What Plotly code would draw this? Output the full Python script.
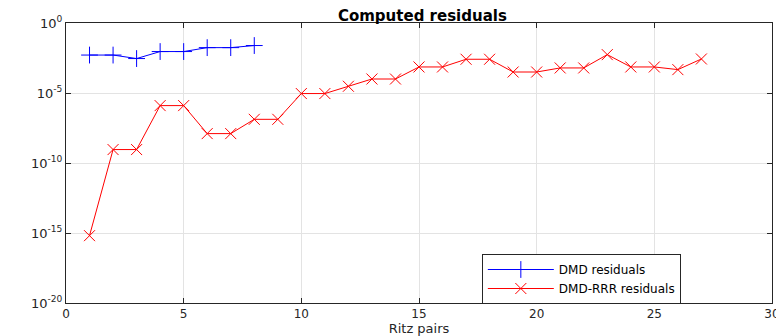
import plotly.graph_objects as go

ritz_dmd = [1, 2, 3, 4, 5, 6, 7, 8]
log_res_dmd = [-2.29, -2.29, -2.54, -2.04, -2.04, -1.76, -1.76, -1.61]

ritz_rrr = list(range(1, 28))
log_res_rrr = [-15.19, -9.04, -9.04, -5.9, -5.9, -7.9, -7.9, -6.88, -6.88,
               -5.04, -5.04, -4.52, -4.0, -4.0, -3.14, -3.14, -2.59, -2.59,
               -3.5, -3.5, -3.21, -3.21, -2.26, -3.14, -3.14, -3.33, -2.57]

res_dmd = [10 ** v for v in log_res_dmd]
res_rrr = [10 ** v for v in log_res_rrr]

y_exps = [0, -5, -10, -15, -20]
y_tickvals = [10.0 ** e for e in y_exps]
y_ticktext = [f"10<sup>{e}</sup>" for e in y_exps]

FONT = "DejaVu Sans, Liberation Sans, Arial, sans-serif"

fig = go.Figure()
fig.add_trace(go.Scatter(
    x=ritz_dmd, y=res_dmd, mode="lines+markers", name="DMD residuals",
    line=dict(color="rgb(0,0,255)", width=1),
    marker=dict(symbol="cross-thin-open", size=12, line=dict(color="rgb(0,0,255)", width=1)),
))
fig.add_trace(go.Scatter(
    x=ritz_rrr, y=res_rrr, mode="lines+markers", name="DMD-RRR residuals",
    line=dict(color="rgb(255,0,0)", width=1),
    marker=dict(symbol="x-thin-open", size=11, line=dict(color="rgb(255,0,0)", width=1)),
))

fig.update_layout(
    width=776, height=328,
    margin=dict(l=58, r=12, t=15, b=33, autoexpand=False),
    paper_bgcolor="white", plot_bgcolor="white",
    font=dict(family=FONT, size=13, color="#262626"),
    title=dict(text="<b>Computed residuals</b>", x=0.534, xanchor="center",
               y=0.975, yanchor="middle", automargin=False,
               font=dict(size=15, color="black")),
    legend=dict(x=0.589, y=0.175, xanchor="left", yanchor="top",
                bgcolor="white", bordercolor="#262626", borderwidth=1,
                font=dict(size=12, color="black"), itemwidth=66,
                entrywidth=262, entrywidthmode="pixels",
                tracegroupgap=0),
    showlegend=True,
)
fig.update_xaxes(
    range=[0, 30], dtick=5, tick0=0, automargin=False,
    showgrid=True, gridcolor="#e3e3e3", gridwidth=1,
    showline=True, linecolor="#262626", linewidth=1, mirror="allticks",
    ticks="inside", ticklen=5, tickcolor="#262626",
    tickfont=dict(size=12),
    zeroline=False,
    title=dict(text="Ritz pairs", standoff=16, font=dict(size=13)),
)
fig.update_yaxes(
    type="log", range=[-20, 0], automargin=False,
    tickvals=y_tickvals, ticktext=y_ticktext,
    showgrid=True, gridcolor="#e3e3e3", gridwidth=1,
    showline=True, linecolor="#262626", linewidth=1, mirror="allticks",
    ticks="inside", ticklen=5, tickcolor="#262626",
    zeroline=False,
)

fig.write_html("out.html")
